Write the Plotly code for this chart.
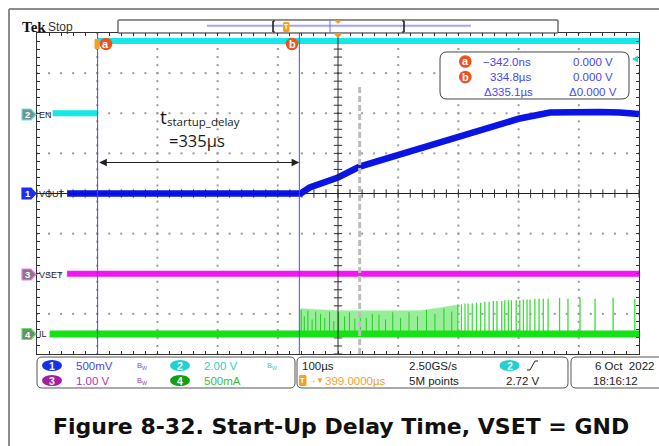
import numpy as np
import plotly.graph_objects as go

W, H = 659, 446

# ---------------- scope settings ----------------
time_range = [-101, 899]          # µs  (100 µs/div, 10 div)
div_range = [-4, 4]
cursor_a = -0.342                 # µs
cursor_b = 334.8                  # µs
gray_marker_t = 435               # µs
gray_marker_top = 2.69            # div

ch_names = ["VOUT", "EN", "VSET", "IL"]
ch_num = ["1", "2", "3", "4"]
ch_scale = [0.5, 2.0, 1.0, 0.5]   # per div
ch_pos = [0.0, 2.0, -2.0, -3.5]   # div offset
ch_color = ["#0A14E4", "#14E8E8", "#F414F4", "#16E016"]

# ---------------- waveforms ----------------
en_t = [-75, 0, None, 0, 899]
en_v = [0, 0, None, 3.6, 3.6]

vout_t = [-51, 337, 352, 369, 399, 435, 502, 551, 601, 651, 701, 751, 784, 834, 867, 899]
vout_v = [0, 0, 0.075, 0.125, 0.20, 0.335, 0.485, 0.585, 0.70, 0.81, 0.935, 1.01, 1.02, 1.015, 1.01, 0.99]

vset_t = [-51, 899]
vset_v = [0, 0]

il_t = [-80, 899]
il_a = [0, 0]

il_env_t = [336, 339, 399, 435, 502, 535, 568, 598]
il_env_a = [0.31, 0.315, 0.29, 0.29, 0.285, 0.29, 0.325, 0.36]

il_dense_t = [338, 343, 349, 356, 362, 370, 377, 385, 392, 400, 410, 418, 427, 436,
              446, 456, 467, 478, 490, 503, 517, 531, 546, 560, 575, 588]
il_dense_a = [0.30, 0.22, 0.29, 0.18, 0.28, 0.25, 0.20, 0.28, 0.16, 0.27, 0.22, 0.27, 0.19, 0.26,
              0.20, 0.25, 0.24, 0.18, 0.27, 0.20, 0.27, 0.22, 0.30, 0.25, 0.32, 0.28]

il_spike_t = [598, 604, 610, 615, 622, 629, 636, 643, 650, 657, 663, 671, 676, 682, 687,
              695, 701, 707, 713, 718, 726, 733, 740, 748, 767, 781, 801, 826, 856, 892]
il_spike_a = [0.37, 0.37, 0.38, 0.38, 0.38, 0.39, 0.39, 0.40, 0.40, 0.41, 0.41, 0.41, 0.42, 0.42, 0.42,
              0.42, 0.42, 0.43, 0.43, 0.43, 0.44, 0.44, 0.44, 0.44, 0.45, 0.44, 0.45, 0.44, 0.45, 0.44]

# ---------------- texts ----------------
readout_rows = [("a", "\u2212342.0ns", "0.000 V"),
                ("b", "334.8\u00b5s", "0.000 V"),
                ("", "\u0394335.1\u00b5s", "\u03940.000 V")]
vert_labels = [("1", "500mV"), ("2", "2.00 V"), ("3", "1.00 V"), ("4", "500mA")]
horiz_labels = ["100\u00b5s", "2.50GS/s", "399.0000\u00b5s", "5M points"]
trig_level = "2.72 V"
date_str = "6 Oct  2022"
time_str = "18:16:12"
caption = "Figure 8-32. Start-Up Delay Time, VSET = GND"

UI = "Liberation Sans, Arial, sans-serif"

def to_div(vals, i):
    return [None if v is None else v / ch_scale[i] + ch_pos[i] for v in vals]

def PX(x):
    return x / W

def PY(y):
    return 1 - y / H

fig = go.Figure()

# ---- graticule dots ----
gx0, gx1 = time_range
dx, dy = [], []
for k in range(1, 10):
    if k == 5:
        continue
    xv = gx0 + 100 * k
    for yv in np.arange(-4, 4.001, 0.2):
        dx.append(xv); dy.append(yv)
for yv in [-3, -2, -1, 1, 2, 3]:
    for xv in np.arange(gx0, gx1 + 0.1, 20):
        dx.append(xv); dy.append(yv)
fig.add_trace(go.Scatter(x=dx, y=dy, mode="markers", hoverinfo="skip",
                         marker=dict(symbol="square", size=2, color="#9a9a9a", line=dict(width=0))))
# center-line ticks
cx = list(np.arange(gx0, gx1 + 0.1, 20))
fig.add_trace(go.Scatter(x=cx, y=[0] * len(cx), mode="markers", hoverinfo="skip",
                         marker=dict(symbol="line-ns", size=6, line=dict(width=1, color="#333"))))
cy = list(np.arange(-4, 4.001, 0.2))
fig.add_trace(go.Scatter(x=[399] * len(cy), y=cy, mode="markers", hoverinfo="skip",
                         marker=dict(symbol="line-ew", size=6, line=dict(width=1, color="#333"))))

# ---- IL (channel 4) ----
i4 = 3
env_x = [il_env_t[0]] + il_env_t + [il_env_t[-1]]
env_y = to_div([0] + il_env_a + [0], i4)
fig.add_trace(go.Scatter(x=env_x, y=env_y, mode="lines", fill="toself", fillcolor="#98EE98",
                         line=dict(width=0.5, color="#98EE98"), hoverinfo="skip"))
sx, sy = [], []
for t, a in zip(il_dense_t, il_dense_a):
    sx += [t, t, None]; sy += to_div([0, a], i4) + [None]
fig.add_trace(go.Scatter(x=sx, y=sy, mode="lines", line=dict(width=1, color="#22CC22"), hoverinfo="skip"))
sx, sy = [], []
for t, a in zip(il_spike_t, il_spike_a):
    sx += [t, t, None]; sy += to_div([0, a], i4) + [None]
fig.add_trace(go.Scatter(x=sx, y=sy, mode="lines", line=dict(width=1.3, color="#3ADE3A"), hoverinfo="skip"))
fig.add_trace(go.Scatter(x=il_t, y=to_div(il_a, i4), mode="lines",
                         line=dict(width=7, color=ch_color[3]), hoverinfo="skip"))
# ---- VSET ----
fig.add_trace(go.Scatter(x=vset_t, y=to_div(vset_v, 2), mode="lines",
                         line=dict(width=6, color=ch_color[2]), hoverinfo="skip"))
# ---- VOUT ----
fig.add_trace(go.Scatter(x=vout_t, y=to_div(vout_v, 0), mode="lines",
                         line=dict(width=6.5, color=ch_color[0]), hoverinfo="skip"))
# ---- EN ----
fig.add_trace(go.Scatter(x=en_t, y=to_div(en_v, 1), mode="lines", connectgaps=False,
                         line=dict(width=6, color=ch_color[1]), hoverinfo="skip"))

shapes = []
ann = []

# center cross
shapes.append(dict(type="line", xref="x", yref="y", x0=399, x1=399, y0=-4, y1=4,
                   line=dict(color="#222", width=1)))
shapes.append(dict(type="line", xref="x", yref="y", x0=gx0, x1=gx1, y0=0, y1=0,
                   line=dict(color="#222", width=1)))
# gray dashed marker
shapes.append(dict(type="line", xref="x", yref="y", x0=gray_marker_t, x1=gray_marker_t,
                   y0=-4, y1=gray_marker_top, line=dict(color="#BDBDBD", width=3, dash="6px,3px")))
# cursors
for c in (cursor_a, cursor_b):
    shapes.append(dict(type="line", xref="x", yref="y", x0=c, x1=c, y0=-4, y1=4,
                       line=dict(color="#3A50FF", width=1)))

def rrect(x0, y0, x1, y1, r):
    def p(x, y):
        return f"{PX(x):.5f},{PY(y):.5f}"
    return (f"M {p(x0+r,y0)} L {p(x1-r,y0)} Q {p(x1,y0)} {p(x1,y0+r)} L {p(x1,y1-r)} "
            f"Q {p(x1,y1)} {p(x1-r,y1)} L {p(x0+r,y1)} Q {p(x0,y1)} {p(x0,y1-r)} "
            f"L {p(x0,y0+r)} Q {p(x0,y0)} {p(x0+r,y0)} Z")

def poly(pts):
    return "M " + " L ".join(f"{PX(x):.5f},{PY(y):.5f}" for x, y in pts) + " Z"

def pline(x0, y0, x1, y1, color, width=1):
    return dict(type="line", xref="paper", yref="paper", x0=PX(x0), x1=PX(x1), y0=PY(y0), y1=PY(y1),
                line=dict(color=color, width=width))

def ppath(path, fill, line="rgba(0,0,0,0)", lw=1):
    return dict(type="path", xref="paper", yref="paper", path=path, fillcolor=fill,
                line=dict(color=line, width=lw))

def ellipse(x0, y0, x1, y1, fill):
    return dict(type="circle", xref="paper", yref="paper", x0=PX(x0), x1=PX(x1),
                y0=PY(y1), y1=PY(y0), fillcolor=fill, line=dict(width=0))

def text(x, y, s, size=11.5, color="#222", anchor="left", family=UI):
    ann.append(dict(xref="paper", yref="paper", x=PX(x), y=PY(y), text=s, showarrow=False,
                    xanchor=anchor, yanchor="middle", font=dict(size=size, color=color, family=family),
                    borderpad=0))

# outer document frame
shapes.append(pline(9, 9, 659, 9, "#8c8c8c", 2))
shapes.append(pline(9, 9, 9, 446, "#8c8c8c", 2))

# Tek Stop
text(21, 27, "<b>Tek</b>", 15, "#111", family="Liberation Serif, Times New Roman, serif")
text(47, 27, "Stop", 12, "#333")

# record bar
shapes.append(ppath(rrect(118, 20, 558, 33, 0.5), "white", "#222", 1))
shapes.append(pline(207, 25.7, 471, 25.7, "#A4A4F6", 2))
shapes.append(pline(330, 20.5, 330, 32.5, "#6070FF", 1))
shapes.append(pline(273, 21, 273, 32, "#111", 1.5))
shapes.append(pline(273, 21, 275, 21, "#111", 1))
shapes.append(pline(273, 32, 275, 32, "#111", 1))
shapes.append(pline(404, 21, 404, 32, "#111", 1.5))
shapes.append(pline(402, 21, 404, 21, "#111", 1))
shapes.append(pline(402, 32, 404, 32, "#111", 1))
shapes.append(ppath(rrect(283, 22, 289.5, 32, 1.5), "#F5A023"))
text(286.3, 27, "<b>T</b>", 7, "white", anchor="center")
shapes.append(ppath(poly([(334.5, 20.5), (341.5, 20.5), (338, 24)]), "#F5A023"))
# trigger position marker at top of graticule
shapes.append(ppath(poly([(333.5, 33), (342.5, 33), (338, 38.5)]), "#F59A1E"))

# cursor markers a / b at top
shapes.append(ppath(rrect(94.5, 39, 99.5, 49, 1), "#F5A023"))
for (cxp, lab) in [(106, "a"), (292, "b")]:
    shapes.append(ellipse(cxp - 6.3, 37.8, cxp + 6.3, 50.2, "#E9541F"))
    text(cxp, 43.5, f"<b>{lab}</b>", 11, "white", anchor="center")

# trigger level arrow at right
shapes.append(ppath(poly([(638, 55.5), (638, 62.5), (632, 59)]), "#2ED6D6"))

# cursor readout box
shapes.append(ppath(rrect(440, 52, 629, 99, 7), "white", "#444", 1))
row_y = [61.5, 77, 92]
for (lab, tv, vv), yy in zip(readout_rows, row_y):
    if lab:
        shapes.append(ellipse(459, yy - 6.3, 471.6, yy + 6.3, "#E9541F"))
        text(465.3, yy - 0.5, f"<b>{lab}</b>", 11, "white", anchor="center")
    text(532 if lab else 534, yy, tv, 11.5, "#4747F2", anchor="right")
    text(614 if lab else 618, yy, vv, 11.5, "#4747F2", anchor="right")

# left channel markers + labels
mark_y = [193.5, 114.5, 274.5, 334]
mark_fill = ["#1C2EF0", "#6E9494", "#857985", "#6C8E6C"]
mark_line = ["#1C2EF0", "#6BE3E3", "#F47AF4", "#66E066"]
for i in range(4):
    c = mark_y[i]
    h = 5.5
    shapes.append(ppath(poly([(22, c - h), (31, c - h), (36, c), (31, c + h), (22, c + h)]),
                        mark_fill[i], mark_line[i], 1.2))
    text(27.5, c, f"<b>{ch_num[i]}</b>", 9.5, "white", anchor="center")
    text(38, c, ch_names[i], 9, "#222")

# annotation t_startup_delay
AF = "Open Sans, Liberation Sans, sans-serif"
text(158.5, 117, "t", 19, "#1a1a1a", family=AF)
text(166, 121, "startup_delay", 11.5, "#1a1a1a", family=AF)
text(168, 140.5, "=335\u00b5s", 16.5, "#1a1a1a", family=AF)
ann.append(dict(x=cursor_b, y=(194 - 163) / 40.1, ax=cursor_a, ay=(194 - 163) / 40.1,
                xref="x", yref="y", axref="x", ayref="y", text="", showarrow=True,
                arrowhead=2, arrowside="end+start", arrowsize=1.4, arrowwidth=1.1,
                arrowcolor="#222", standoff=0, startstandoff=0))

# bottom panels
shapes.append(ppath(rrect(37, 357, 295, 388, 5), "white", "#555", 1))
shapes.append(ppath(rrect(297, 357, 568, 388, 5), "white", "#555", 1))
shapes.append(ppath(rrect(571, 357, 672, 388, 5), "white", "#555", 1))

ell_fill = ["#1530EE", "#22D0D0", "#A21FA2", "#12A012"]
txt_col = ["#4848F0", "#34CCCC", "#B035B0", "#3CC03C"]
bw_col = ["#5A5AF0", "#40C8C8", "#A040A0"]
pos = [(52, 365.5), (180, 365.5), (52, 380.5), (180, 380.5)]
for i, (num, lab) in enumerate(vert_labels):
    ex, ey = pos[i]
    shapes.append(ellipse(ex - 10, ey - 5.5, ex + 10, ey + 5.5, ell_fill[i]))
    text(ex, ey, f"<b>{num}</b>", 10.5, "white", anchor="center")
    text(ex + 22.5, ey, lab, 11.5, txt_col[i])
for i, (bx, by) in enumerate([(136, 365.5), (266, 365.5), (136, 380.5)]):
    text(bx, by, "B<sub>W</sub>", 7.5, bw_col[i])

text(301, 365.5, horiz_labels[0], 11.5, "#222")
text(408, 365.5, horiz_labels[1], 11.5, "#222")
text(408, 380.5, horiz_labels[3], 11.5, "#222")
shapes.append(ppath(rrect(299, 375, 306.5, 386, 1.5), "#F5A023"))
text(302.8, 380.5, "<b>T</b>", 7.5, "white", anchor="center")
text(306.5, 380.5, "\u2192\u25bc", 8, "#F0A030")
text(387, 380.5, horiz_labels[2], 11.5, "#F0A030", anchor="right")
shapes.append(ellipse(499.5, 360, 519.5, 371, ell_fill[1]))
text(509.5, 365.5, "<b>2</b>", 10.5, "white", anchor="center")
shapes.append(dict(type="path", xref="paper", yref="paper",
                   path=f"M {PX(527)},{PY(370)} L {PX(530)},{PY(370)} L {PX(535)},{PY(361)} L {PX(538)},{PY(361)}",
                   line=dict(color="#222", width=1)))
text(505, 380.5, trig_level, 11.5, "#222")
text(655, 365.5, date_str, 11.5, "#222", anchor="right")
text(592, 380.5, time_str, 11.5, "#222")

# caption
text(341, 426, f"<b>{caption}</b>", 22, "#111", anchor="center", family="DejaVu Sans, Verdana, sans-serif")

axis_common = dict(showgrid=False, zeroline=False, showticklabels=False, showline=True,
                   linecolor="#333", linewidth=1, mirror="ticks", ticks="inside", ticklen=3,
                   tickcolor="#333", tickwidth=1, fixedrange=True)
fig.update_layout(
    width=W, height=H, margin=dict(l=0, r=0, t=0, b=0),
    paper_bgcolor="white", plot_bgcolor="white", showlegend=False,
    xaxis=dict(domain=[37 / W, 639 / W], range=time_range, tick0=time_range[0], dtick=20, **axis_common),
    yaxis=dict(domain=[1 - 354 / H, 1 - 33 / H], range=div_range, tick0=-4, dtick=0.2, **axis_common),
    shapes=shapes, annotations=ann,
)
fig.write_html("out.html", config={"displayModeBar": False},
               post_script="document.body.style.margin='0px';document.body.style.overflow='hidden';")
